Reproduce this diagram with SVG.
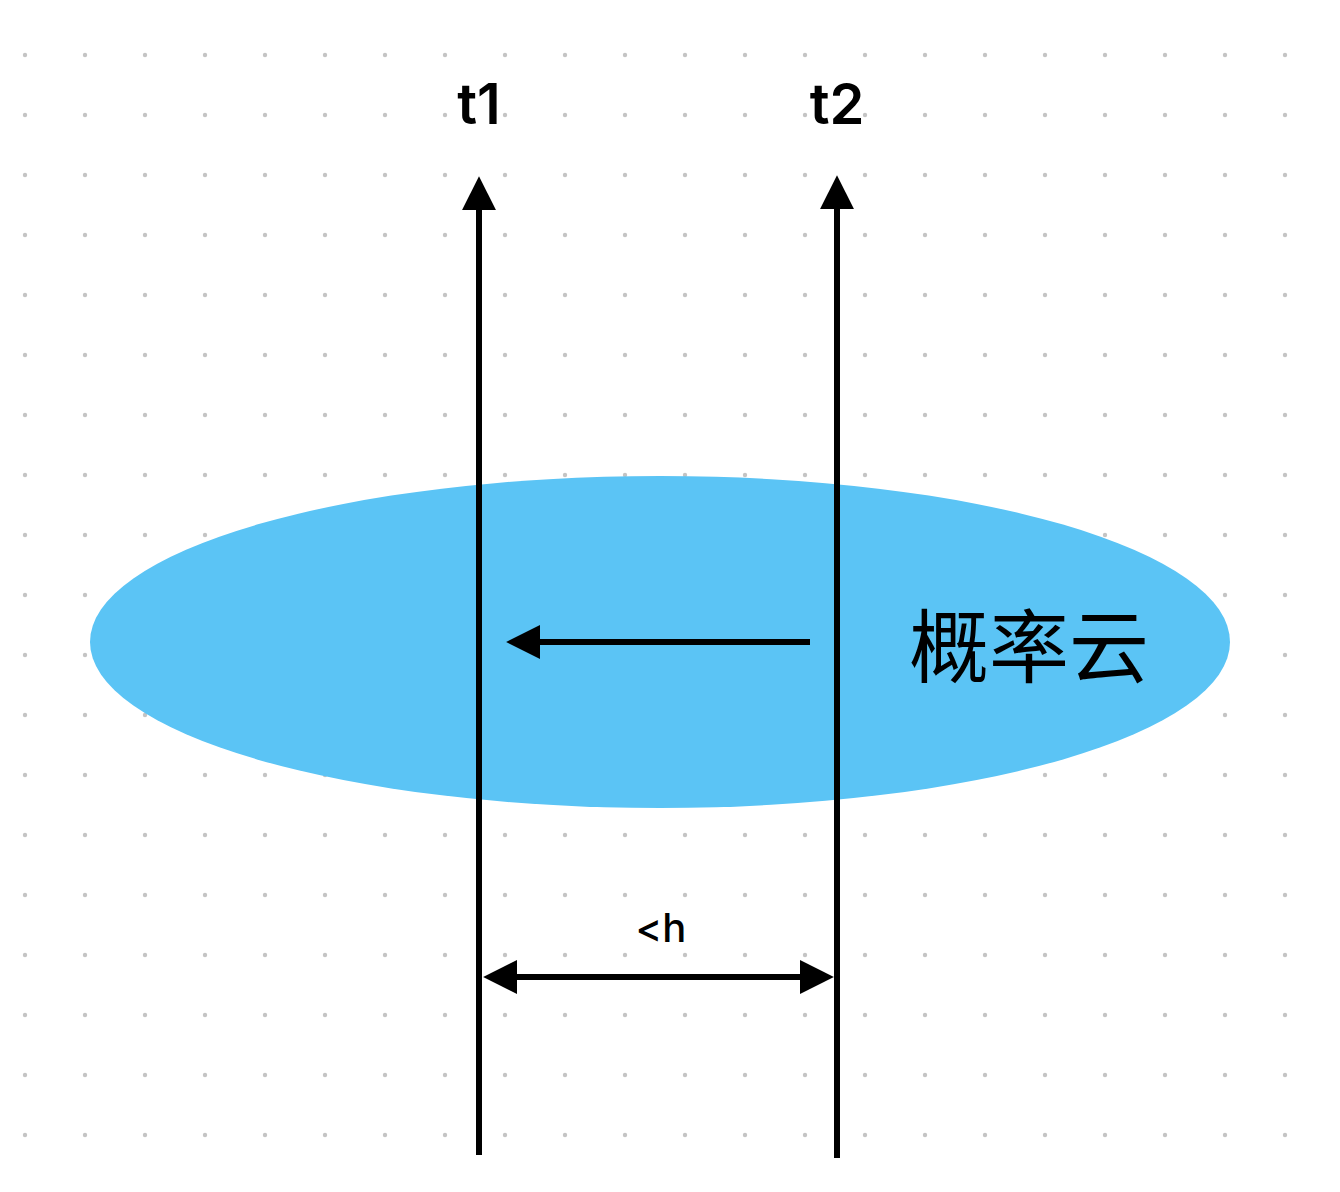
<svg xmlns="http://www.w3.org/2000/svg" width="1340" height="1192" viewBox="0 0 1340 1192">
<defs>
<pattern id="dots" patternUnits="userSpaceOnUse" width="60" height="60">
<circle cx="25" cy="55" r="2.2" fill="#c4c4c4"/>
</pattern>
<marker id="ah" markerUnits="userSpaceOnUse" markerWidth="34" markerHeight="34" refX="2" refY="16" orient="auto-start-reverse" viewBox="0 0 32 32">
<path d="M0,0 L32,16 L0,32 Z" fill="#000"/>
</marker>
</defs>
<style>
.ln{stroke:#000;stroke-width:6;fill:none}
.lbl{font-family:Inter,"Liberation Sans",sans-serif;fill:#000;text-anchor:middle}
</style>
<rect width="1340" height="1192" fill="#fff"/>
<rect width="1340" height="1192" fill="url(#dots)"/>
<g id="cloud">
<ellipse cx="660" cy="642" rx="570" ry="166" fill="#5bc4f5"/>
<text x="1029" y="676" font-family="'Noto Sans CJK SC',sans-serif" font-size="80" text-anchor="middle" fill="#000">概率云</text>
</g>
<g id="t1">
<text class="lbl" x="479" y="124" font-size="56" font-weight="600">t1</text>
</g>
<g id="t2">
<text class="lbl" x="837" y="124" font-size="56" font-weight="600">t2</text>
</g>
<g id="h-label">
<text class="lbl" x="661" y="942" font-size="40" font-weight="500">&lt;h</text>
</g>
<g id="connectors">
<line class="ln" x1="479" y1="1155" x2="479" y2="208" marker-end="url(#ah)"/>
<line class="ln" x1="837" y1="1158" x2="837" y2="207" marker-end="url(#ah)"/>
<line class="ln" x1="810" y1="642" x2="538" y2="642" marker-end="url(#ah)"/>
<line class="ln" x1="515" y1="977" x2="802" y2="977" marker-start="url(#ah)" marker-end="url(#ah)"/>
</g>
</svg>
